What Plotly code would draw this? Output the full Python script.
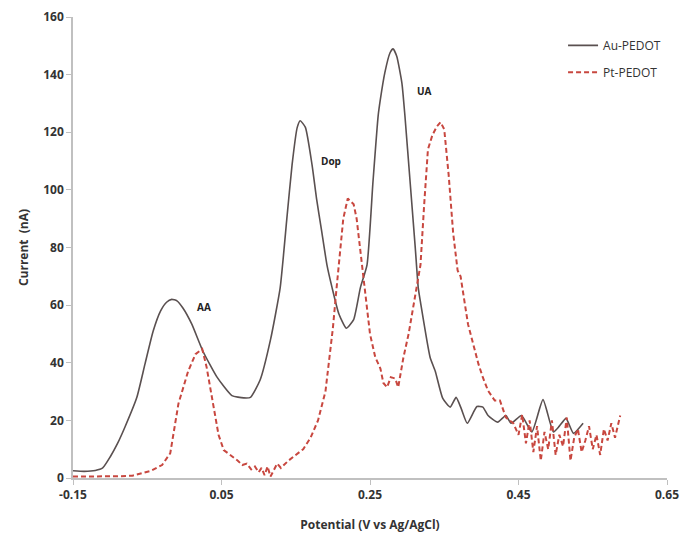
import plotly.graph_objects as go

# Au-PEDOT (solid)
au_v = [-0.15, -0.135, -0.12, -0.11, -0.1, -0.09, -0.08, -0.064, -0.053, -0.042, -0.032, -0.024,
        -0.017, -0.01, -0.002, 0.01, 0.025, 0.044, 0.064, 0.08, 0.089, 0.102, 0.116, 0.129, 0.138,
        0.145, 0.152, 0.156, 0.163, 0.172, 0.178, 0.185, 0.192, 0.199, 0.208, 0.218, 0.228, 0.237,
        0.246, 0.254, 0.261, 0.264, 0.27, 0.277, 0.281, 0.286, 0.293, 0.297, 0.304, 0.311, 0.315,
        0.318, 0.331, 0.338, 0.348, 0.358, 0.366, 0.373, 0.381, 0.394, 0.402, 0.409, 0.422, 0.433,
        0.44, 0.454, 0.468, 0.483, 0.497, 0.505, 0.514, 0.524, 0.537]
au_i = [2.5, 2.3, 2.6, 3.5, 7.3, 12, 17.7, 28, 39.6, 51, 58, 61,
        62, 61.5, 59, 53.4, 44, 35, 28.6, 27.8, 28, 34, 48, 66, 90,
        108.6, 121.7, 124, 121.7, 108.6, 97, 85.5, 74, 66, 57, 52, 55, 66,
        74, 102.8, 125.8, 131.5, 140.7, 147.6, 149, 146.4, 137, 125.8, 102.8, 79.8, 66,
        61, 41.8, 37, 27.6, 24.6, 28, 24, 19, 24.8, 24.6, 21.7, 19.4, 21.7,
        19, 21.7, 16, 27.2, 16, 18, 20.7, 15.5, 19]

# Pt-PEDOT (dashed)
pt_v = [-0.15, -0.12, -0.09, -0.07, -0.06, -0.045, -0.03, -0.019, -0.008, 0.005, 0.015, 0.024,
        0.03, 0.039, 0.046, 0.053, 0.066, 0.072, 0.078, 0.084, 0.09, 0.095, 0.1, 0.104, 0.108,
        0.112, 0.116, 0.12, 0.125, 0.13, 0.14, 0.15, 0.16, 0.17, 0.18, 0.19, 0.195, 0.2, 0.205,
        0.214, 0.22, 0.224, 0.228, 0.232, 0.239, 0.243, 0.25, 0.257, 0.264, 0.268, 0.273, 0.278,
        0.284, 0.288, 0.295, 0.302, 0.308, 0.318, 0.323, 0.328, 0.334, 0.34, 0.345, 0.35, 0.356,
        0.362, 0.368, 0.372, 0.378, 0.382, 0.389, 0.396, 0.402, 0.409, 0.418, 0.425, 0.433, 0.443,
        0.45, 0.455, 0.46, 0.465, 0.47, 0.475, 0.48, 0.485, 0.49, 0.495, 0.5, 0.505, 0.51, 0.515,
        0.52, 0.525, 0.53, 0.535, 0.54, 0.545, 0.55, 0.555, 0.56, 0.565, 0.57, 0.575, 0.58, 0.587]
pt_i = [0.5, 0.5, 0.6, 0.8, 1.5, 2.5, 4.5, 8.6, 25.8, 37, 43, 44.8,
        38.4, 25.8, 15, 9.7, 7.3, 6, 4.5, 5, 3, 4, 2, 3.5, 1,
        4, 0.5, 2.5, 5, 3.5, 6, 8, 10, 14, 20, 30, 40, 52, 66,
        90, 97, 96, 95, 90, 74, 66, 50, 42, 38, 33, 31.5, 35,
        34.5, 31.5, 41.8, 50, 59, 74, 95, 114, 119, 122, 123.5, 121, 105,
        85, 72, 70, 60, 53.4, 46.5, 39.6, 34.9, 30.3, 26.9, 26.9, 21, 19,
        15, 22, 12, 20, 9, 18, 6, 16, 10, 20, 8, 15, 11, 21,
        6, 14, 17, 9, 13, 18, 10, 15, 8, 17, 13, 19, 14, 21.7]

peak_labels = ["AA", "Dop", "UA"]
peak_v = [0.027, 0.197, 0.324]
peak_i = [59.4, 110, 134.4]

x_ticks = [-0.15, 0.05, 0.25, 0.45, 0.65]
y_ticks = [0, 20, 40, 60, 80, 100, 120, 140, 160]

FONT = "Open Sans"
fig = go.Figure()
fig.add_trace(go.Scatter(x=au_v, y=au_i, mode="lines", name="Au-PEDOT", legendgroup="a",
                         line=dict(color="#5a5050", width=1.6, shape="spline", smoothing=0.5)))
fig.add_trace(go.Scatter(x=pt_v, y=pt_i, mode="lines", name="Pt-PEDOT", legendgroup="b",
                         line=dict(color="#c8473f", width=2, dash="5px,3px")))

for t, xv, yv in zip(peak_labels, peak_v, peak_i):
    fig.add_annotation(x=xv, y=yv, text=t, showarrow=False,
                       font=dict(family=FONT, size=10, color="#222", weight="bold"))

fig.update_layout(
    width=684, height=537,
    margin=dict(l=65, r=25, t=9, b=67),
    paper_bgcolor="white", plot_bgcolor="white",
    showlegend=True,
    legend=dict(x=0.825, y=0.97, xanchor="left", yanchor="top",
                font=dict(family=FONT, size=12, color="#333"),
                bgcolor="rgba(0,0,0,0)", itemwidth=30, tracegroupgap=8,
                traceorder="grouped"),
    xaxis=dict(range=[-0.15, 0.65], tickvals=x_ticks, ticktext=[f"{v:.2f}" for v in x_ticks],
               automargin=False, ticklabeloverflow="allow",
               showgrid=False, zeroline=False, showline=True, linecolor="#c0c0c0", linewidth=1.5,
               ticks="outside", ticklen=5, tickcolor="#c0c0c0",
               tickfont=dict(family=FONT, size=12, color="#333", weight="bold"),
               title=dict(text="Potential (V vs Ag/AgCl)", standoff=18,
                          font=dict(family=FONT, size=12, color="#333", weight="bold"))),
    yaxis=dict(range=[0, 160], tickvals=y_ticks, automargin=False, ticklabeloverflow="allow",
               showgrid=False, zeroline=False, showline=True, linecolor="#c0c0c0", linewidth=1.5,
               ticks="outside", ticklen=5, tickcolor="#c0c0c0",
               tickfont=dict(family=FONT, size=12, color="#333", weight="bold"),
               title=dict(text="Current  (nA)", standoff=12,
                          font=dict(family=FONT, size=12, color="#333", weight="bold"))),
)

fig.write_html("out.html")
